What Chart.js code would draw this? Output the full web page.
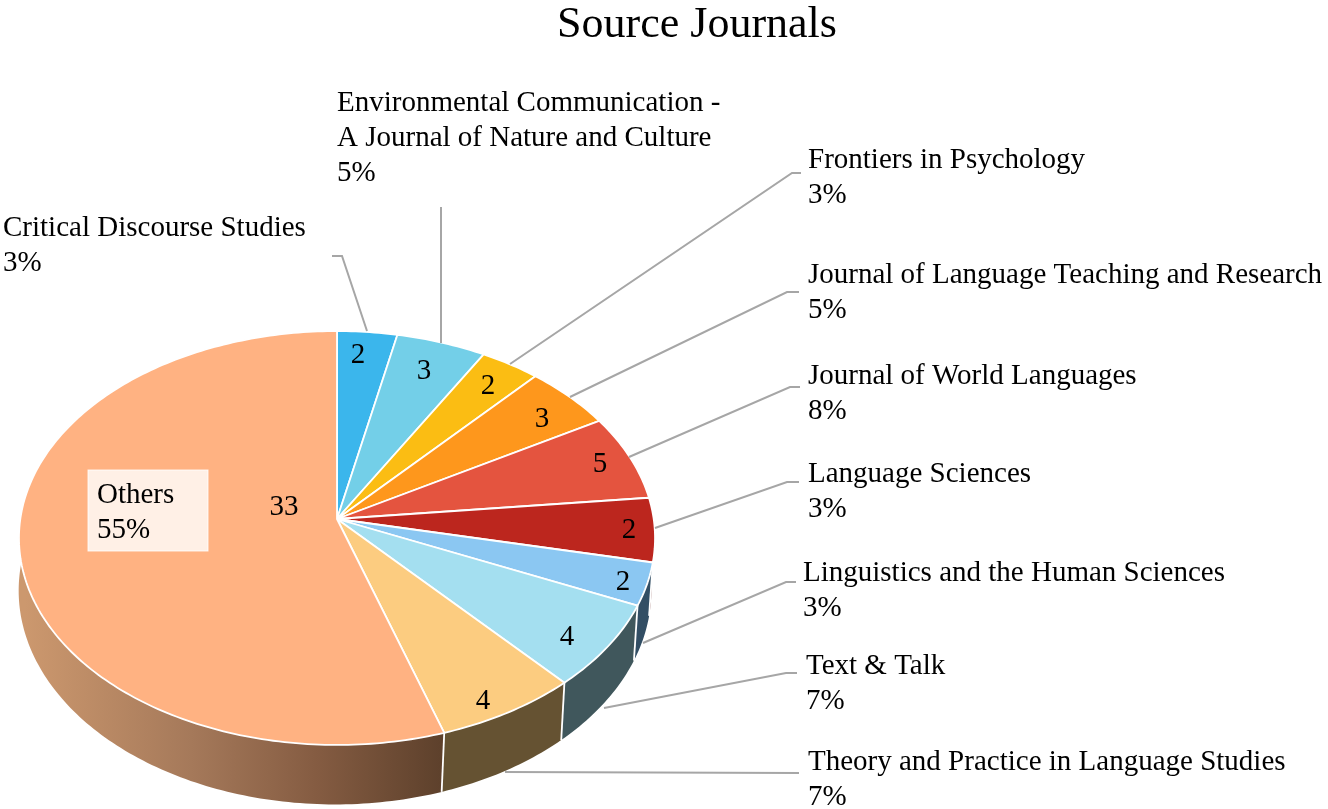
<!DOCTYPE html>
<html>
<head>
<meta charset="utf-8">
<title>Source Journals</title>
<script src="https://cdn.jsdelivr.net/npm/chart.js@4"></script>
<style>
html, body { margin: 0; padding: 0; background: #fff; }
#wrap { width: 1328px; height: 809px; position: relative; }
</style>
</head>
<body>
<div id="wrap"><canvas id="journalChart" width="1328" height="809"></canvas></div>
<script>
var journals = ['Critical Discourse Studies', 'Environmental Communication - A Journal of Nature and Culture',
    'Frontiers in Psychology', 'Journal of Language Teaching and Research', 'Journal of World Languages',
    'Language Sciences', 'Linguistics and the Human Sciences', 'Text & Talk',
    'Theory and Practice in Language Studies', 'Others'];
// numbers printed on the slices
var counts = [2, 3, 2, 3, 5, 2, 2, 4, 4, 33];
// slice sizes as drawn in the picture: World Languages and Language Sciences
// are drawn as 4 and 3 there although they are printed as 5 and 2
var sliceSizes = [2, 3, 2, 3, 4, 3, 2, 4, 4, 33];
var percents = ['3%', '5%', '3%', '5%', '8%', '3%', '3%', '7%', '7%', '55%'];
var topColors = ['#3bb6ec', '#73cfe8', '#fbbd13', '#fe971c', '#e4543f', '#bc261e', '#8bc7f2', '#a4dff0', '#fccc80', '#ffb282'];
var sideColors = ['#1d5a76', '#396774', '#7d5e09', '#7f4b0e', '#722a1f', '#5e130f', '#324e64', '#40575c', '#655232', null];

// label layout: text lines, x, baseline of each line
var labelLines = [
    ['Critical Discourse Studies'],
    ['Environmental Communication -', 'A Journal of Nature and Culture'],
    ['Frontiers in Psychology'],
    ['Journal of Language Teaching and Research'],
    ['Journal of World Languages'],
    ['Language Sciences'],
    ['Linguistics and the Human Sciences'],
    ['Text & Talk'],
    ['Theory and Practice in Language Studies'],
    ['Others']
];
var labelX = [3, 337, 808, 808, 808, 808, 803, 806, 808, 97];
var labelY = [236, 111, 168, 283, 384, 482, 581, 674, 770, 503];
var countX = [358, 424, 488, 542, 600, 629, 623, 567, 483, 284];
var countY = [363, 379, 394, 427, 472, 538, 590, 645, 709, 515];
var leaders = [
    [[332, 256], [342, 256], [367, 331]],
    [[441, 207], [441, 343]],
    [[801, 173], [792, 173], [510, 364]],
    [[799, 292], [787, 292], [570, 397]],
    [[800, 387], [790, 387], [629, 457]],
    [[799, 482], [787, 482], [655, 528]],
    [[796, 582], [786, 582], [643, 643]],
    [[797, 673], [786, 673], [604, 708]],
    [[799, 773], [505, 772]]
];

// perspective of the pie disc
var pie = { cx: 337, cy: 519, rx: 316.7, ry: 205.2, k: 0.0918, drop: 52, cxBase: 335, rxBase: 315, ryBase: 212 };
var serif = '"Liberation Serif", "Times New Roman", serif';

function project(angle, cx, rx, ry, drop) {
    var u = Math.cos(angle), v = Math.sin(angle), w = 1 - pie.k * v;
    return { x: cx + rx * u / w, y: pie.cy + drop + ry * v / w };
}

function topPoints(start, end) {
    var pts = [], n = Math.max(2, Math.ceil((end - start) * 60));
    for (var i = 0; i <= n; i++) {
        pts.push(project(start + (end - start) * i / n, pie.cx, pie.rx, pie.ry, 0));
    }
    return pts;
}

function basePoints(start, end) {
    var pts = [], n = Math.max(2, Math.ceil((end - start) * 60));
    for (var i = 0; i <= n; i++) {
        pts.push(project(start + (end - start) * i / n, pie.cxBase, pie.rxBase, pie.ryBase, pie.drop));
    }
    return pts;
}

var pie3d = {
    id: 'pie3d',
    beforeDatasetDraw: function(chart, args) {
        var ctx = chart.ctx;
        var arcs = args.meta.data;
        var othersSide = ctx.createLinearGradient(25, 0, 440, 0);
        othersSide.addColorStop(0, '#cc986e');
        othersSide.addColorStop(0.4, '#a5795a');
        othersSide.addColorStop(0.7, '#855c42');
        othersSide.addColorStop(1, '#5e412c');

        ctx.save();
        // side walls first, the top face covers the hidden part
        arcs.forEach(function(arc, i) {
            var top = topPoints(arc.startAngle, arc.endAngle);
            var base = basePoints(arc.startAngle, arc.endAngle);
            ctx.beginPath();
            top.forEach(function(p, j) { j ? ctx.lineTo(p.x, p.y) : ctx.moveTo(p.x, p.y); });
            base.reverse().forEach(function(p) { ctx.lineTo(p.x, p.y); });
            ctx.closePath();
            ctx.fillStyle = sideColors[i] || othersSide;
            ctx.fill();
        });
        arcs.forEach(function(arc) {
            if (Math.sin(arc.startAngle) <= 0.1) return;
            var a = topPoints(arc.startAngle, arc.endAngle)[0];
            var b = basePoints(arc.startAngle, arc.endAngle)[0];
            ctx.beginPath();
            ctx.moveTo(a.x, a.y);
            ctx.lineTo(b.x, b.y);
            ctx.strokeStyle = '#ffffff';
            ctx.lineWidth = 1.8;
            ctx.stroke();
        });
        // top face
        arcs.forEach(function(arc) {
            var pts = topPoints(arc.startAngle, arc.endAngle);
            ctx.beginPath();
            ctx.moveTo(pie.cx, pie.cy);
            pts.forEach(function(p) { ctx.lineTo(p.x, p.y); });
            ctx.closePath();
            ctx.fillStyle = arc.options.backgroundColor;
            ctx.fill();
            ctx.strokeStyle = arc.options.borderColor;
            ctx.lineWidth = arc.options.borderWidth;
            ctx.lineJoin = 'round';
            ctx.stroke();
        });
        ctx.restore();
        return false;
    },
    afterDatasetsDraw: function(chart) {
        var ctx = chart.ctx;
        ctx.save();
        ctx.strokeStyle = '#a6a6a6';
        ctx.lineWidth = 2;
        leaders.forEach(function(line) {
            ctx.beginPath();
            line.forEach(function(p, j) { j ? ctx.lineTo(p[0], p[1]) : ctx.moveTo(p[0], p[1]); });
            ctx.stroke();
        });

        // box behind the Others label
        ctx.fillStyle = 'rgba(255,255,255,0.8)';
        ctx.fillRect(88, 470, 120, 81);
        ctx.strokeStyle = 'rgba(255,255,255,0.8)';
        ctx.lineWidth = 1;
        ctx.strokeRect(88, 470, 120, 81);

        ctx.fillStyle = '#000000';
        ctx.font = '29px ' + serif;
        ctx.textBaseline = 'alphabetic';
        ctx.textAlign = 'left';
        labelLines.forEach(function(lines, i) {
            lines.concat(percents[i]).forEach(function(text, j) {
                ctx.fillText(text, labelX[i], labelY[i] + j * 35);
            });
        });
        ctx.textAlign = 'center';
        counts.forEach(function(n, i) {
            ctx.fillText(String(n), countX[i], countY[i]);
        });
        ctx.restore();
    }
};

var chart = new Chart(document.getElementById('journalChart').getContext('2d'), {
    type: 'pie',
    data: {
        labels: journals,
        datasets: [{
            data: sliceSizes,
            backgroundColor: topColors,
            borderColor: '#ffffff',
            borderWidth: 1.8
        }]
    },
    options: {
        responsive: false,
        animation: false,
        layout: { padding: { left: 66 } },
        plugins: {
            title: {
                display: true,
                text: 'Source Journals',
                color: '#000000',
                font: { family: serif, size: 44, weight: 'normal' },
                padding: { top: -1, bottom: 10 }
            },
            legend: { display: false },
            tooltip: { enabled: false }
        }
    },
    plugins: [pie3d]
});
</script>
</body>
</html>
